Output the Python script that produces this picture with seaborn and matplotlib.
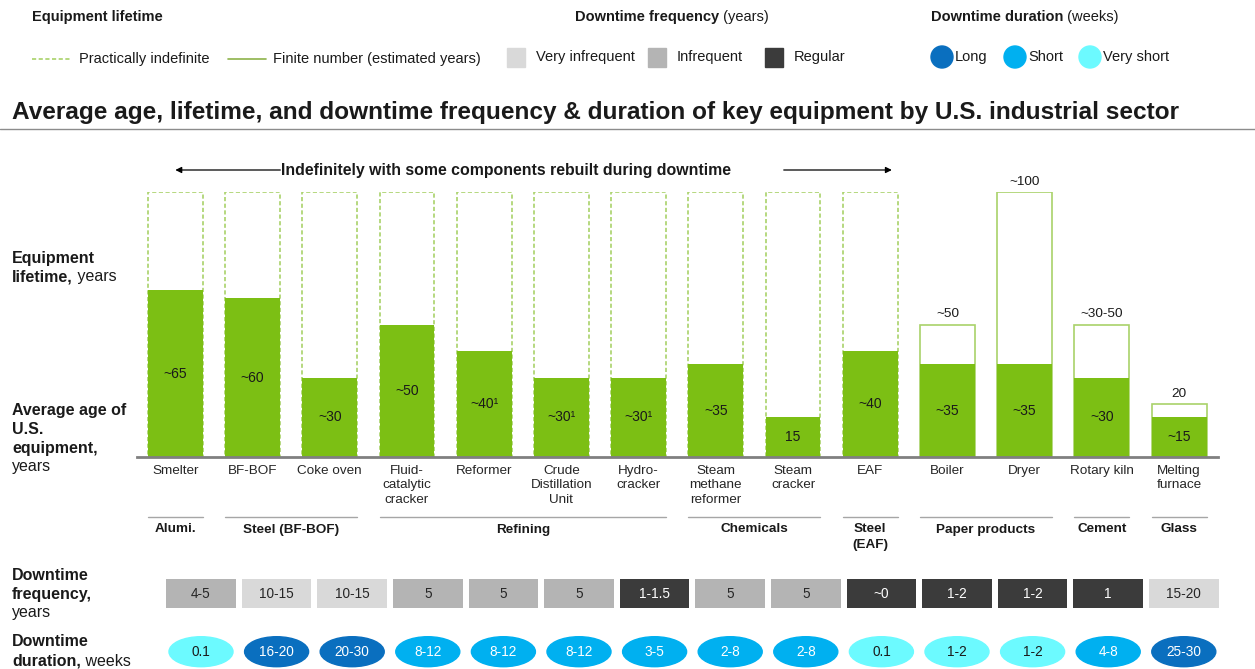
import numpy as np
import seaborn as sns
import matplotlib.pyplot as plt
from matplotlib import transforms
from matplotlib.colors import ListedColormap
from matplotlib.patches import Ellipse, Rectangle

# ---- data ----
equipment = ["Smelter", "BF-BOF", "Coke oven", "Fluid-\ncatalytic\ncracker", "Reformer",
             "Crude\nDistillation\nUnit", "Hydro-\ncracker", "Steam\nmethane\nreformer",
             "Steam\ncracker", "EAF", "Boiler", "Dryer", "Rotary kiln", "Melting\nfurnace"]
avg_age = [63, 60, 30, 50, 40, 30, 30, 35, 15, 40, 35, 35, 30, 15]
age_labels = ["~65", "~60", "~30", "~50", "~40¹", "~30¹", "~30¹", "~35", "15", "~40",
              "~35", "~35", "~30", "~15"]
# None = practically indefinite
lifetime = [None, None, None, None, None, None, None, None, None, None, 50, 100, 50, 20]
lifetime_labels = ["", "", "", "", "", "", "", "", "", "", "~50", "~100", "~30-50", "20"]

sectors = ["Alumi.", "Steel (BF-BOF)", "Refining", "Chemicals", "Steel\n(EAF)",
           "Paper products", "Cement", "Glass"]
sector_first = [0, 1, 3, 7, 9, 10, 12, 13]
sector_last = [0, 2, 6, 8, 9, 11, 12, 13]

freq_labels = ["4-5", "10-15", "10-15", "5", "5", "5", "1-1.5", "5", "5", "~0",
               "1-2", "1-2", "1", "15-20"]
freq_class = ["Infrequent", "Very infrequent", "Very infrequent", "Infrequent", "Infrequent",
              "Infrequent", "Regular", "Infrequent", "Infrequent", "Regular", "Regular",
              "Regular", "Regular", "Very infrequent"]
dur_labels = ["0.1", "16-20", "20-30", "8-12", "8-12", "8-12", "3-5", "2-8", "2-8", "0.1",
              "1-2", "1-2", "4-8", "25-30"]
dur_class = ["Very short", "Long", "Long", "Short", "Short", "Short", "Short", "Short",
             "Short", "Very short", "Very short", "Very short", "Short", "Long"]

freq_levels = ["Very infrequent", "Infrequent", "Regular"]
freq_colors = ["#D9D9D9", "#B4B4B4", "#3B3B3B"]
dur_levels = ["Long", "Short", "Very short"]
dur_colors = {"Long": "#0A6FBF", "Short": "#00B0F0", "Very short": "#6CFAFF"}
dur_text = {"Long": "white", "Short": "white", "Very short": "#1a1a1a"}

GREEN = "#7CBF14"
LIGHT = "#A9D26A"

sns.set_style("white")
plt.rcParams['font.family'] = ['Liberation Sans', 'DejaVu Sans']
plt.rcParams['text.color'] = '#1a1a1a'

W, H = 1255, 669
fig = plt.figure(figsize=(W / 100, H / 100), dpi=100)

# overlay in pixel units for titles / legend / side labels
lay = fig.add_axes([0, 0, 1, 1])
lay.set_xlim(0, W)
lay.set_ylim(H, 0)
lay.axis('off')

# ---- bar chart ----
ax = fig.add_axes([136.7 / W, 1 - 457 / H, 1081 / W, 265 / H])
top = max(v for v in lifetime if v is not None)
life_h = [top if v is None else v for v in lifetime]
sns.barplot(x=equipment, y=life_h, color="white", edgecolor=LIGHT, linewidth=1.2,
            width=0.71, saturation=1, errorbar=None, ax=ax)
for p, v in zip(ax.patches, lifetime):
    if v is None:
        p.set_linestyle((0, (2.5, 1.5)))
sns.barplot(x=equipment, y=avg_age, color=GREEN, linewidth=0, width=0.71,
            saturation=1, errorbar=None, ax=ax)
ax.set_ylim(0, top)
ax.set_xlim(-0.5, len(equipment) - 0.5)
ax.set_yticks([])
ax.set_ylabel("")
ax.set_xticks(range(len(equipment)))
ax.set_xticklabels(equipment, fontsize=9.7, linespacing=1.3)
ax.tick_params(axis='x', length=0, pad=5.5)
sns.despine(ax=ax, left=True)
ax.spines['bottom'].set_color('#808080')
ax.spines['bottom'].set_linewidth(2)
ax.patch.set_alpha(0)

for i, (a, lab) in enumerate(zip(avg_age, age_labels)):
    ax.text(i, a / 2, lab, ha='center', va='center', fontsize=10)
for i, (h, lab) in enumerate(zip(life_h, lifetime_labels)):
    if lab:
        ax.annotate(lab, (i, h), xytext=(0, 3), textcoords='offset points',
                    ha='center', va='bottom', fontsize=9.7, annotation_clip=False)

# blended: x in bar categories, y in pixels
bt = transforms.blended_transform_factory(ax.transData, lay.transData)

lay.text(4.28, 170, "Indefinitely with some components rebuilt during downtime",
         transform=bt, ha='center', va='center', weight='bold', fontsize=11.4)
arrow = dict(arrowstyle='-|>', color='black', lw=0.9, mutation_scale=9, shrinkA=0, shrinkB=0)
lay.annotate('', xy=(0, 170), xytext=(1.36, 170), xycoords=bt, textcoords=bt, arrowprops=arrow)
lay.annotate('', xy=(9.28, 170), xytext=(7.88, 170), xycoords=bt, textcoords=bt, arrowprops=arrow)

# sector groups
for name, a, b in zip(sectors, sector_first, sector_last):
    lay.plot([a - 0.355, b + 0.355], [517, 517], transform=bt, color='#A6A6A6', lw=1)
    lay.text((a + b) / 2, 523.5, name, transform=bt, ha='center', va='top',
             weight='bold', fontsize=9.7, linespacing=1.35)

# ---- downtime frequency row (heatmap) ----
axf = fig.add_axes([163.2 / W, 1 - 611.3 / H, 1058.4 / W, 35.3 / H])
codes = np.array([[freq_levels.index(c) for c in freq_class]])
sns.heatmap(codes, ax=axf, cmap=ListedColormap(freq_colors), vmin=-0.5, vmax=2.5,
            cbar=False, annot=np.array([freq_labels]), fmt='', annot_kws={'size': 9.8},
            linewidths=3.2, linecolor='white', xticklabels=False, yticklabels=False)

# ---- downtime duration row ----
axd = fig.add_axes([163.2 / W, 1 - 666.7 / H, 1058.4 / W, 30 / H])
axd.set_xlim(0, len(dur_labels))
axd.set_ylim(0, 1)
axd.axis('off')
for i, (lab, c) in enumerate(zip(dur_labels, dur_class)):
    axd.add_patch(Ellipse((i + 0.5, 0.5), 0.847, 1.0, color=dur_colors[c], clip_on=False))
    axd.text(i + 0.5, 0.5, lab, ha='center', va='center', color=dur_text[c], fontsize=9.8)


def two_part(x, y, bold, rest, size):
    t = lay.text(x, y, bold, weight='bold', fontsize=size, va='center')
    lay.annotate(rest, xy=(1, 0.5), xycoords=t, va='center', fontsize=size)


# side labels
lay.text(12, 258, "Equipment", weight='bold', fontsize=11.5, va='center')
two_part(12, 277, "lifetime,", " years", 11.5)
for yy, s in zip([410, 429, 448], ["Average age of", "U.S.", "equipment,"]):
    lay.text(12, yy, s, weight='bold', fontsize=11.5, va='center')
lay.text(12, 467, "years", fontsize=11.5, va='center')
lay.text(12, 575, "Downtime", weight='bold', fontsize=11.5, va='center')
lay.text(12, 594, "frequency,", weight='bold', fontsize=11.5, va='center')
lay.text(12, 613, "years", fontsize=11.5, va='center')
lay.text(12, 642, "Downtime", weight='bold', fontsize=11.5, va='center')
two_part(12, 661, "duration,", " weeks", 11.5)

# title
lay.text(12, 112, "Average age, lifetime, and downtime frequency & duration of key equipment "
         "by U.S. industrial sector", weight='bold', fontsize=17.6, va='center')
lay.plot([0, W], [129, 129], color='#8C8C8C', lw=1)

# legends
lay.text(32, 17, "Equipment lifetime", weight='bold', fontsize=10.5, va='center')
lay.plot([32, 72], [59, 59], color=LIGHT, lw=1.2, ls=(0, (2.5, 1.5)))
lay.text(79, 59, "Practically indefinite", fontsize=10.5, va='center')
lay.plot([228, 266], [59, 59], color='#8DB34A', lw=1.2)
lay.text(273, 59, "Finite number (estimated years)", fontsize=10.5, va='center')

two_part(575, 17, "Downtime frequency", " (years)", 10.5)
for x0, lab, col in zip([507, 648, 765], freq_levels, freq_colors):
    lay.add_patch(Rectangle((x0, 47.5), 18, 19, color=col))
    lay.text(x0 + 29, 57, lab, fontsize=10.5, va='center')

two_part(931, 17, "Downtime duration", " (weeks)", 10.5)
for xc, lab in zip([942, 1015, 1090], dur_levels):
    lay.add_patch(Ellipse((xc, 57), 22, 22, color=dur_colors[lab]))
    lay.text(xc + 13, 57, lab, fontsize=10.5, va='center')

fig.savefig("out.png", dpi=100)
